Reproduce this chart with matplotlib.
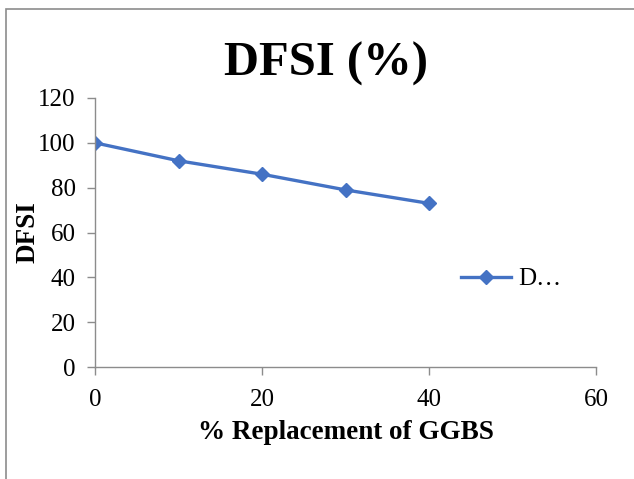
import matplotlib
matplotlib.use('Agg')
import matplotlib.pyplot as plt
from matplotlib.patches import Rectangle

# data
replacement = [0, 10, 20, 30, 40]
dfsi = [100, 92, 86, 79, 73]
series_name = 'D…'

plt.rcParams['font.family'] = ['Liberation Serif', 'DejaVu Serif']

fig = plt.figure(figsize=(6.34, 4.79), dpi=100)
ax = fig.add_axes([95/634, 1 - 367/479, 501/634, 269/479])

ax.plot(replacement, dfsi, color='#4472C4', lw=2.4, marker='D', ms=7.5,
        label=series_name)

ax.set_xlim(0, 60)
ax.set_ylim(0, 120)
ax.set_xticks([0, 20, 40, 60])
ax.set_yticks(range(0, 121, 20))

for s in ['top', 'right']:
    ax.spines[s].set_visible(False)
for s in ['left', 'bottom']:
    ax.spines[s].set_color('#8c8c8c')
    ax.spines[s].set_linewidth(1)
ax.tick_params(colors='#8c8c8c', labelcolor='black', labelsize=18,
               length=6, width=1, direction='out')
ax.tick_params(axis='x', pad=10)
ax.tick_params(axis='y', pad=8)

ax.set_xlabel('% Replacement of GGBS', fontsize=19.5, fontweight='bold')
ax.xaxis.set_label_coords(0.5, -0.197)
ax.set_ylabel('DFSI', fontsize=19.5, fontweight='bold')
ax.yaxis.set_label_coords(-0.108, 0.5)
fig.text(326/634, 1 - 64/479, 'DFSI (%)', fontsize=35, fontweight='bold',
         ha='center', va='center')

ax.legend(loc='center left', bbox_to_anchor=(438/634, 1 - 279/479),
          bbox_transform=fig.transFigure, frameon=False, fontsize=18,
          handlelength=2.0, handletextpad=0.3)

# outer chart border (bottom/right fall outside the picture)
fig.patches.append(Rectangle((6/634, -0.1), 1.2, 1 - 9/479 + 0.1,
                             transform=fig.transFigure, fill=False,
                             edgecolor='#8c8c8c', lw=1.2))

fig.savefig('out.png', dpi=100)
